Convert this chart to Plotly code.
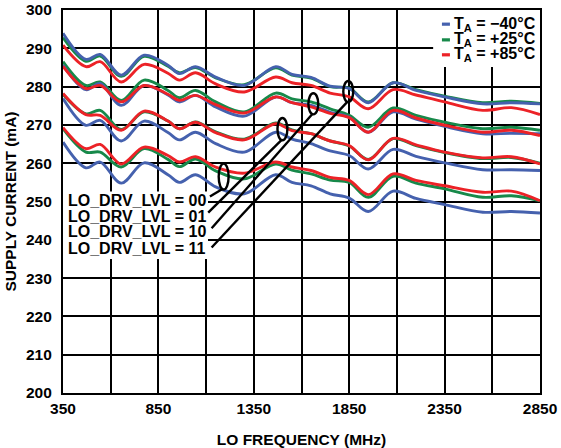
import plotly.graph_objects as go

# ---------------- data ----------------
freq_mhz = [350, 470, 545, 655, 775, 900, 960, 1045, 1150, 1300, 1465, 1550,
            1650, 1750, 1850, 1950, 2080, 2200, 2350, 2550, 2700, 2850]

# LO_DRV_LVL = 11
lvl11_m40 = [293.9, 287.1, 288.4, 283.0, 288.2, 285.6, 283.4, 285.2, 282.5, 280.3, 285.2, 283.2,
             282.4, 280.1, 279.5, 275.8, 281.0, 279.0, 277.3, 275.5, 275.8, 275.5]
lvl11_p25 = [292.8, 286.6, 288.0, 282.7, 287.9, 285.3, 283.6, 285.0, 282.3, 280.5, 284.9, 283.0,
             282.2, 280.0, 279.6, 276.0, 281.0, 279.2, 277.5, 275.8, 276.2, 275.6]
lvl11_p85 = [290.8, 285.2, 286.5, 281.2, 285.8, 283.5, 281.7, 283.6, 280.7, 278.6, 282.5, 281.0,
             280.3, 278.3, 277.3, 274.2, 279.2, 277.8, 276.0, 273.8, 274.5, 272.7]
# LO_DRV_LVL = 10
lvl10_m40 = [285.6, 279.2, 280.8, 275.1, 280.3, 277.8, 276.0, 277.7, 274.7, 272.3, 277.3, 275.8,
             275.1, 273.3, 272.0, 268.1, 273.4, 271.5, 269.6, 267.7, 267.8, 267.7]
lvl10_p25 = [286.5, 280.3, 281.2, 276.4, 281.7, 279.0, 277.1, 279.0, 276.0, 273.4, 278.3, 276.8,
             276.0, 274.2, 272.5, 269.4, 274.4, 272.5, 270.7, 269.0, 269.4, 268.6]
lvl10_p85 = [285.3, 279.5, 280.3, 276.0, 280.3, 278.0, 276.4, 277.7, 275.3, 273.1, 277.3, 275.8,
             274.7, 273.0, 271.9, 268.1, 273.8, 271.8, 269.9, 268.1, 268.6, 267.2]
# LO_DRV_LVL = 01
lvl01_m40 = [276.9, 269.9, 271.2, 265.8, 271.0, 268.0, 266.1, 268.1, 265.1, 262.9, 268.1, 266.3,
             265.1, 263.2, 262.0, 258.5, 263.6, 261.8, 260.1, 258.3, 258.3, 258.1]
lvl01_p25 = [278.0, 272.9, 273.8, 268.8, 273.4, 271.0, 269.0, 270.8, 268.2, 266.3, 270.5, 268.7,
             267.7, 265.8, 264.5, 261.0, 266.4, 264.6, 262.8, 261.2, 261.5, 260.0]
lvl01_p85 = [278.2, 272.7, 272.5, 268.6, 273.6, 271.0, 269.0, 270.7, 268.0, 266.1, 270.3, 268.5,
             267.7, 265.8, 264.6, 260.9, 266.5, 264.8, 262.9, 261.4, 261.7, 259.8]
# LO_DRV_LVL = 00
lvl00_m40 = [265.5, 258.8, 260.3, 254.8, 260.1, 257.0, 255.0, 257.0, 253.8, 252.0, 257.0, 255.0,
             254.1, 252.0, 250.9, 247.4, 252.7, 250.8, 249.2, 247.2, 247.4, 247.0]
lvl00_p25 = [269.0, 262.9, 262.9, 259.0, 263.8, 261.0, 259.1, 261.1, 258.0, 255.9, 259.8, 258.2,
             257.2, 255.6, 255.0, 251.1, 256.6, 254.8, 253.3, 251.1, 251.5, 250.2]
lvl00_p85 = [269.3, 263.8, 264.9, 259.8, 264.2, 262.0, 260.3, 261.7, 259.0, 257.4, 260.3, 259.0,
             258.1, 256.3, 255.5, 251.8, 257.2, 255.5, 254.1, 252.4, 252.7, 250.2]

temp_labels = ["T<sub>A</sub> = \u221240\u00b0C", "T<sub>A</sub> = +25\u00b0C", "T<sub>A</sub> = +85\u00b0C"]
level_labels = ["LO_DRV_LVL = 00", "LO_DRV_LVL = 01", "LO_DRV_LVL = 10", "LO_DRV_LVL = 11"]

# ---------------- style ----------------
BLUE = "#4561ae"
GREEN = "#17894a"
RED = "#ec2227"
FONT = "Liberation Sans, Arial, sans-serif"

fig = go.Figure()

groups = [
    (lvl00_m40, lvl00_p25, lvl00_p85),
    (lvl01_m40, lvl01_p25, lvl01_p85),
    (lvl10_m40, lvl10_p25, lvl10_p85),
    (lvl11_m40, lvl11_p25, lvl11_p85),
]
for gi, (m40, p25, p85) in enumerate(groups):
    for ys, col, nm in [(p25, GREEN, temp_labels[1]), (m40, BLUE, temp_labels[0]), (p85, RED, temp_labels[2])]:
        fig.add_trace(go.Scatter(
            x=freq_mhz, y=ys, mode="lines",
            line=dict(color=col, width=2.9, shape="spline", smoothing=1.0),
            name=nm, showlegend=False, hoverinfo="skip"))

# white box behind level labels
fig.add_shape(type="rect", xref="x", yref="y", x0=350, x1=1110, y0=235.0, y1=252.6,
              fillcolor="white", line=dict(width=0), layer="between")
# white box behind legend
fig.add_shape(type="rect", xref="x", yref="y", x0=2290, x1=2850, y0=285.1, y1=300,
              fillcolor="white", line=dict(width=0), layer="between")

# level labels
label_y = [250.2, 246.1, 242.1, 237.8]
for txt, yy in zip(level_labels, label_y):
    fig.add_annotation(x=1112, y=yy, xref="x", yref="y", text=txt, showarrow=False,
                       xanchor="right", yanchor="middle",
                       font=dict(family=FONT, size=16, color="black", weight="bold"))

# ellipses and leader lines
ellipses = [(1192, 256.5, 26, 6.8), (1500, 268.9, 26, 5.8), (1662, 275.5, 26, 5.5), (1845, 278.7, 26, 5.5)]
leaders = [((1120, 251.3), (1190, 253.4)), ((1111, 247.1), (1496, 266.1)),
           ((1129, 243.0), (1656, 272.8)), ((1129, 238.0), (1840, 276.0))]
for (cx, cy, hw, hh) in ellipses:
    fig.add_shape(type="circle", xref="x", yref="y", x0=cx - hw, x1=cx + hw,
                  y0=cy - hh / 2, y1=cy + hh / 2, line=dict(color="black", width=2.4))
for (p0, p1) in leaders:
    fig.add_shape(type="line", xref="x", yref="y", x0=p0[0], y0=p0[1], x1=p1[0], y1=p1[1],
                  line=dict(color="black", width=2.4))

# legend (custom)
leg_y = [296.3, 292.2, 288.3]
for col, txt, yy in zip([BLUE, GREEN, RED], temp_labels, leg_y):
    fig.add_shape(type="line", xref="x", yref="y", x0=2336, x1=2378, y0=yy, y1=yy,
                  line=dict(color=col, width=3.2))
    fig.add_annotation(x=2390, y=yy, xref="x", yref="y", text=txt, showarrow=False,
                       xanchor="left", yanchor="middle",
                       font=dict(family=FONT, size=16, color="black", weight="bold"))

fig.update_layout(
    width=561, height=448,
    margin=dict(l=63, r=21, t=10, b=55),
    paper_bgcolor="white", plot_bgcolor="white",
    font=dict(family=FONT, size=15, color="black", weight="bold"),
    showlegend=False,
)
fig.update_xaxes(
    range=[350, 2850], tick0=350, dtick=500, automargin=False,
    showgrid=True, gridcolor="black", gridwidth=1.7,
    minor=dict(dtick=250, tick0=350, showgrid=True, gridcolor="black", gridwidth=1.7),
    showline=True, linecolor="black", linewidth=2.2, mirror=True,
    ticks="", zeroline=False,
    tickfont=dict(family=FONT, size=15.5, color="black", weight="bold"),
    title=dict(text="LO FREQUENCY (MHz)", standoff=19,
               font=dict(family=FONT, size=15.5, color="black", weight="bold")),
)
fig.update_yaxes(
    range=[200, 300], tick0=200, dtick=10, automargin=False,
    showgrid=True, gridcolor="black", gridwidth=1.7,
    showline=True, linecolor="black", linewidth=2.2, mirror=True,
    ticks="", zeroline=False, ticklabelstandoff=6,
    tickfont=dict(family=FONT, size=15.5, color="black", weight="bold"),
    title=dict(text="SUPPLY CURRENT (mA)", standoff=5,
               font=dict(family=FONT, size=15.5, color="black", weight="bold")),
)

fig.write_html("out.html")
